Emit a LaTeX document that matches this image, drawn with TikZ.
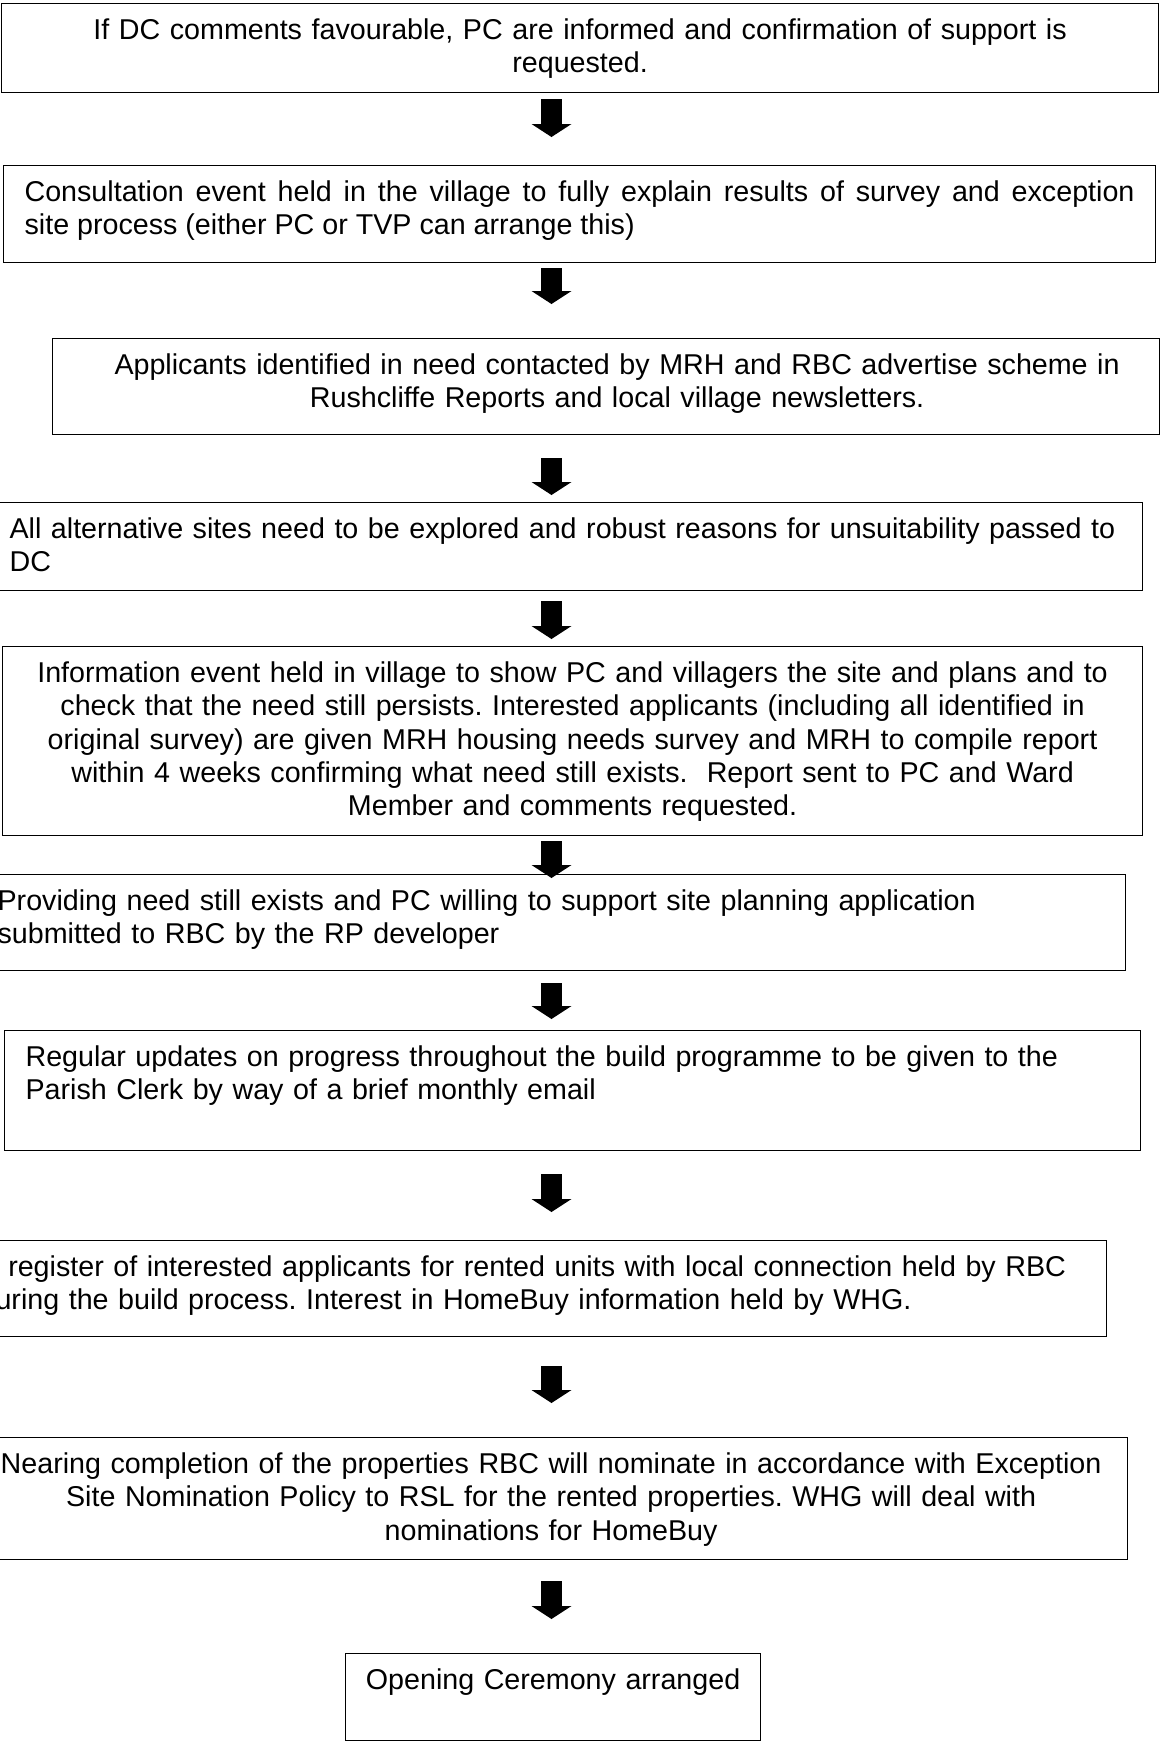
\documentclass[tikz,border=0pt]{standalone}
\usepackage{fontspec}
\setmainfont{Liberation Sans}
\usetikzlibrary{arrows.meta,positioning}
\newlength{\pxu}
\setlength{\pxu}{0.5pt}
\frenchspacing
\tikzset {
  % one step of the process, text hangs from the top edge
  stage/.style = {
    draw = black,
    line width = 1.2\pxu,
    anchor = north west,
    inner xsep = 21\pxu,
    inner ysep = 0pt,
    text height = 36\pxu,
    font = \fontsize{14.33}{16.65}\selectfont
  },
  % centred text
  cstage/.style = {
    stage,
    align = center
  },
  % text flush left
  lstage/.style = {
    stage,
    align = left
  },
  % text spread to both edges
  jstage/.style = {
    stage,
    align = justify
  },
  % fat block arrow from one step to the next
  flow/.style = {
    line width = 21\pxu,
    -{Triangle[width = 20pt, length = 6.5pt, line width = 0pt]}
  }
}

\begin{document}
\begin{tikzpicture}[x = 0.5pt, y = -0.5pt]
    \useasboundingbox (0,0) rectangle (1161,1742);

    \node[cstage, text width = 1115\pxu, text depth = 53\pxu] (support) at (1,3)
      {If DC comments favourable, PC are informed and confirmation of support is\\
       requested.};

    \node[jstage, text width = 1110\pxu, text depth = 61\pxu] (consultation) at (3,165)
      {Consultation event held in the village to fully explain results of survey and exception\linebreak
       site process (either PC or TVP can arrange this)};

    \node[cstage, text width = 1065\pxu, text depth = 60\pxu] (applicants) at (52,338)
      {\hspace*{22\pxu}Applicants identified in need contacted by MRH and RBC advertise scheme in\\
       \hspace*{22\pxu}Rushcliffe Reports and local village newsletters.};

    \node[lstage, text width = 1112\pxu, text depth = 52\pxu] (alt sites) at (-12,502)
      {All alternative sites need to be explored and robust reasons for unsuitability passed to\\
       DC};

    \node[cstage, text width = 1098\pxu, text depth = 153\pxu] (info event) at (2,646)
      {Information event held in village to show PC and villagers the site and plans and to\\
       check that the need still persists. Interested applicants (including all identified in\\
       original survey) are given MRH housing needs survey and MRH to compile report\\
       within 4 weeks confirming what need still exists.~ Report sent to PC and Ward\\
       Member and comments requested.};

    \node[lstage, text width = 1107\pxu, text depth = 60\pxu] (planning) at (-24,874)
      {Providing need still exists and PC willing to support site planning application\\
       submitted to RBC by the RP developer};

    \node[lstage, text width = 1094\pxu, text depth = 84\pxu] (updates) at (4,1030)
      {Regular updates on progress throughout the build programme to be given to the\\
       Parish Clerk by way of a brief monthly email};

    \node[lstage, text width = 1106\pxu, text depth = 60\pxu] (register) at (-42,1240)
      {A register of interested applicants for rented units with local connection held by RBC\\
       during the build process. Interest in HomeBuy information held by WHG.};

    \node[cstage, text width = 1111\pxu, text depth = 86\pxu] (nominations) at (-26,1437)
      {Nearing completion of the properties RBC will nominate in accordance with Exception\\
       Site Nomination Policy to RSL for the rented properties. WHG will deal with\\
       nominations for HomeBuy};

    \node[cstage, inner xsep = 10\pxu, text width = 395\pxu, text depth = 51\pxu] (opening) at (345,1653)
      {Opening Ceremony arranged};

    \coordinate (arrow axis) at (551.5,0);

    % arrows between the steps
    \draw[flow, shorten <= 6\pxu, shorten >= 28\pxu]
      (support.south -| arrow axis) -- (consultation.north -| arrow axis);
    \draw[flow, shorten <= 5\pxu, shorten >= 34\pxu]
      (consultation.south -| arrow axis) -- (applicants.north -| arrow axis);
    \draw[flow, shorten <= 23\pxu, shorten >= 7\pxu]
      (applicants.south -| arrow axis) -- (alt sites.north -| arrow axis);
    \draw[flow, shorten <= 10\pxu, shorten >= 7\pxu]
      (alt sites.south -| arrow axis) -- (info event.north -| arrow axis);
    \draw[flow, shorten <= 5\pxu, shorten >= -4\pxu]
      (info event.south -| arrow axis) -- (planning.north -| arrow axis);
    \draw[flow, shorten <= 12\pxu, shorten >= 11\pxu]
      (planning.south -| arrow axis) -- (updates.north -| arrow axis);
    \draw[flow, shorten <= 23\pxu, shorten >= 28\pxu]
      (updates.south -| arrow axis) -- (register.north -| arrow axis);
    \draw[flow, shorten <= 29\pxu, shorten >= 34\pxu]
      (register.south -| arrow axis) -- (nominations.north -| arrow axis);
    \draw[flow, shorten <= 21\pxu, shorten >= 34\pxu]
      (nominations.south -| arrow axis) -- (opening.north -| arrow axis);
\end{tikzpicture}
\end{document}
